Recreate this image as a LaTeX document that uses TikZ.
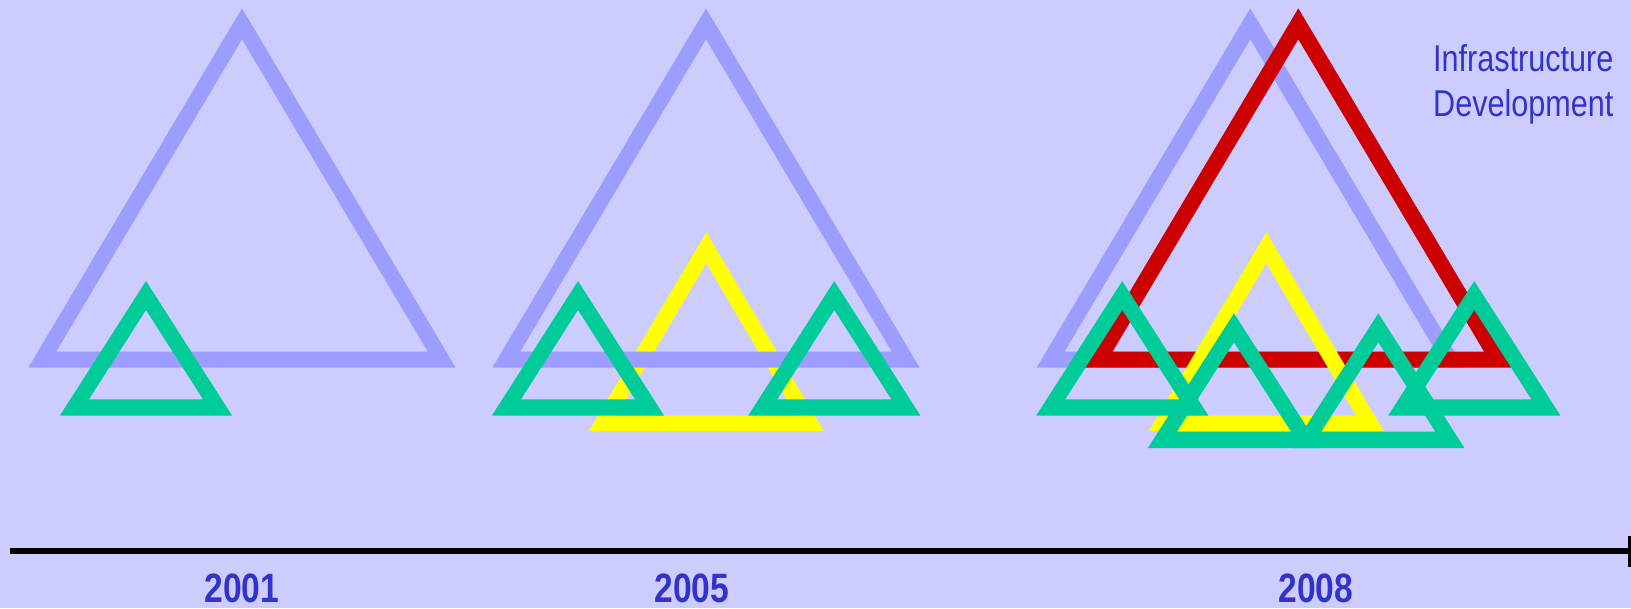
\documentclass[tikz,border=0pt]{standalone}
\usepackage{fontspec}
\newfontfamily\narrowfont[FakeStretch=0.82]{Liberation Sans}
\definecolor{bgc}{HTML}{CCCCFF}
\definecolor{bluetri}{HTML}{9D9DFF}
\definecolor{greentri}{HTML}{00CC99}
\definecolor{redtri}{HTML}{CC0000}
\definecolor{yellowtri}{HTML}{FFFF00}
\definecolor{txtblue}{HTML}{3333CC}
\newcommand\BigTri[3]{\fill[#1,even odd rule,shift={(#2,#3)}] (0,0) -- (213.7,359.4) -- (-213.7,359.4) -- cycle (0,31) -- (185.8,343.4) -- (-185.8,343.4) -- cycle;}
\newcommand\MidTri[3]{\fill[#1,even odd rule,shift={(#2,#3)}] (0,0) -- (117.35,198.7) -- (-117.35,198.7) -- cycle (0,31) -- (90,183.4) -- (-90,183.4) -- cycle;}
\newcommand\SmallTri[3]{\fill[#1,even odd rule,shift={(#2,#3)}] (0,0) -- (86.15,134.7) -- (-86.15,134.7) -- cycle (0,29) -- (57.1,118.4) -- (-57.1,118.4) -- cycle;}
\tikzset{
  label/.style={inner sep=0pt, text=txtblue, font=\narrowfont\fontsize{37.3}{44}\selectfont},
  year/.style={inner sep=0pt, anchor=base, text=txtblue, font=\narrowfont\bfseries\fontsize{41}{48}\selectfont}
}
\begin{document}
\begin{tikzpicture}[x=1pt,y=-1pt]
\fill[bgc] (0,0) rectangle (1631,608);
\useasboundingbox (0,0) rectangle (1631,608);
% 2001
\BigTri{bluetri}{242}{8.3}
\SmallTri{greentri}{146}{281}
% 2005
\MidTri{yellowtri}{706.3}{232.3}
\BigTri{bluetri}{706}{8.3}
\SmallTri{greentri}{578}{281}
\SmallTri{greentri}{834.3}{281}
% 2008
\BigTri{bluetri}{1250.3}{8.3}
\BigTri{redtri}{1298.3}{8.3}
\MidTri{yellowtri}{1266.3}{232.3}
\SmallTri{greentri}{1122.3}{281}
\SmallTri{greentri}{1234}{313.3}
\SmallTri{greentri}{1378.3}{313.3}
\SmallTri{greentri}{1474.3}{281}
% axis
\coordinate (axL) at (10,551.4);
\coordinate (axR) at (1628.5,551.4);
\draw[line width=6pt] (axL) -- (axR);
\fill (1628.3,536) rectangle (1631,567);
% labels
\node[label, anchor=base west] (infra) at (1433,71.7) {Infrastructure};
\node[label, anchor=base west] (devel) at (1433,116) {Development};
\node[year] (y2001) at (242,602.5) {2001};
\node[year] (y2005) at (691.7,602.5) {2005};
\node[year] (y2008) at (1315.8,602.5) {2008};
\end{tikzpicture}
\end{document}
